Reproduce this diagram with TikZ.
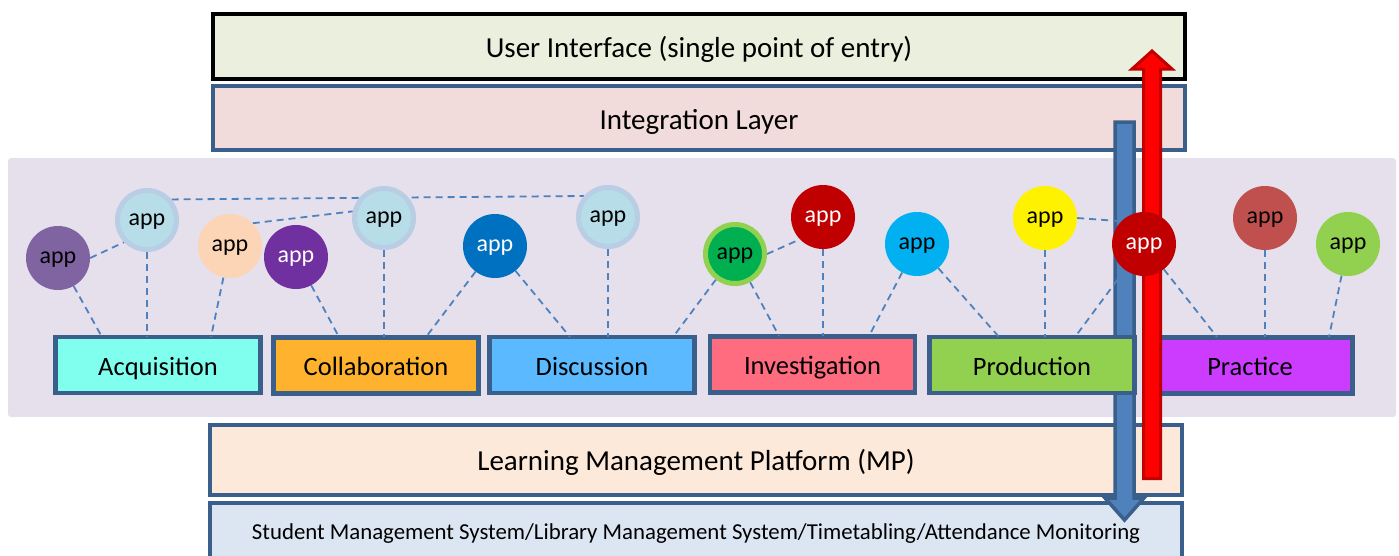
\documentclass[tikz,border=0pt]{standalone}
\usepackage{fontspec}
\setmainfont{Carlito}
\pgfdeclarelayer{bg}
\pgfdeclarelayer{mid}
\pgfsetlayers{bg,mid,main}
\begin{document}
\begin{tikzpicture}[x=1pt,y=-1pt,
  layer/.style={draw=bordblue,line width=4pt,minimum width=972pt,minimum height=64pt,inner sep=0pt,text height=29pt,text depth=7pt,font=\fontsize{29}{33}\selectfont},
  cat/.style={draw=bordblue,line width=4.5pt,minimum width=205pt,minimum height=56pt,inner sep=0pt,text height=27pt,text depth=6.5pt,font=\fontsize{26.5}{30}\selectfont},
  app/.style={circle,minimum size=64pt,inner sep=0pt,text height=15pt,text depth=3.8pt,font=\fontsize{24}{28}\selectfont},
  ringapp/.style={circle,minimum size=59pt,inner sep=0pt,line width=5pt,text height=15pt,text depth=3.8pt,font=\fontsize{24}{28}\selectfont},
  link/.style={draw=linkblue,line width=1.8pt,dash pattern=on 7pt off 5pt}
]
\definecolor{bordblue}{HTML}{3A5F8B}
\definecolor{linkblue}{HTML}{4F81BD}
\definecolor{uifill}{HTML}{EBF0DE}
\definecolor{intfill}{HTML}{F2DCDB}
\definecolor{lav}{HTML}{E5E0EC}
\definecolor{lmpfill}{HTML}{FDE9D9}
\definecolor{smsfill}{HTML}{DCE6F2}
\definecolor{acqc}{HTML}{80FFEF}
\definecolor{collc}{HTML}{FFB22E}
\definecolor{discc}{HTML}{5BB9FF}
\definecolor{invc}{HTML}{FF6B7F}
\definecolor{prodc}{HTML}{92D050}
\definecolor{pracc}{HTML}{CC3CFF}
\definecolor{ringc}{HTML}{B9CDE5}
\definecolor{lbfill}{HTML}{B7DDE8}
\definecolor{purp1}{HTML}{8064A2}
\definecolor{peach}{HTML}{FBD5B5}
\definecolor{purp2}{HTML}{7030A0}
\definecolor{dblue}{HTML}{0070C0}
\definecolor{gfill}{HTML}{00B050}
\definecolor{dred}{HTML}{C00000}
\definecolor{cyanb}{HTML}{00B0F0}
\definecolor{rosy}{HTML}{C0504D}
\useasboundingbox (0,0) rectangle (1399,555);
\begin{pgfonlayer}{bg}
% layers
\node[layer,draw=black,line width=4.5pt,fill=uifill,minimum height=65pt] (ui) at (699,46.5) {User Interface (single point of entry)};
\node[layer,fill=intfill] (int) at (699,118) {Integration Layer};
\fill[lav,rounded corners=3pt] (8,158) rectangle (1396,417);
\node[layer,fill=lmpfill,minimum height=70pt] (lmp) at (696,459.5) {Learning Management Platform (MP)};
\node[layer,fill=smsfill,minimum height=70pt] (sms) at (696,538) {};
\node[font=\fontsize{22.8}{26}\selectfont,text height=23pt,text depth=5.5pt] (smst) at (696,531) {Student Management System/Library Management System/Timetabling/Attendance Monitoring};
% blue arrow (down)
\filldraw[fill=linkblue,draw=bordblue,line width=3.5pt,line join=miter]
  (1115,122) -- (1134,122) -- (1134,498) -- (1144,498) -- (1124.5,520) -- (1105,498) -- (1115,498) -- cycle;
% category boxes
\node[cat,fill=acqc] (acq) at (158,365) {Acquisition};
\node[cat,fill=collc] (coll) at (376,365.5) {Collaboration};
\node[cat,fill=discc] (disc) at (592,365) {Discussion};
\node[cat,fill=invc] (inv) at (812.5,364.5) {Investigation};
\node[cat,fill=prodc] (prod) at (1032,365) {Production};
\node[cat,fill=pracc] (prac) at (1250,365.5) {Practice};
% red arrow (up)
\filldraw[fill=red,draw=dred,line width=3pt,line join=miter]
  (1143.5,478.5) -- (1160.5,478.5) -- (1160.5,69) -- (1172,69) -- (1152,51) -- (1132,69) -- (1143.5,69) -- cycle;
\end{pgfonlayer}
% apps
\node[app,fill=purp1] (a1) at (58,258) {app};
\node[ringapp,draw=ringc,fill=lbfill] (a2) at (147,220) {app};
\node[app,fill=peach] (a3) at (230,246) {app};
\node[app,fill=purp2,text=white] (a4) at (296,257) {app};
\node[ringapp,draw=ringc,fill=lbfill] (a5) at (384,218) {app};
\node[app,fill=dblue,text=white] (a6) at (495,246) {app};
\node[ringapp,draw=ringc,fill=lbfill] (a7) at (608,217) {app};
\node[ringapp,draw=prodc,fill=gfill] (a8) at (735,254) {app};
\node[app,fill=dred,text=white] (a9) at (823,217) {app};
\node[app,fill=cyanb] (a10) at (917,244) {app};
\node[app,fill=yellow] (a11) at (1045,218) {app};
\node[app,fill=dred,text=white] (a12) at (1144,244) {app};
\node[app,fill=rosy] (a13) at (1265,218) {app};
\node[app,fill=prodc] (a14) at (1348,244) {app};
% anchor points on category boxes
\coordinate (c1) at (102,337);
\coordinate (c2) at (147,337);
\coordinate (c3) at (211,337);
\coordinate (c4) at (339,337);
\coordinate (c5) at (384,337);
\coordinate (c6) at (426,337);
\coordinate (c7) at (570,337);
\coordinate (c8) at (608,337);
\coordinate (c9) at (673,337);
\coordinate (c10) at (779,336);
\coordinate (c11) at (823,336);
\coordinate (c12) at (869,336);
\coordinate (c13) at (999,337);
\coordinate (c14) at (1045,337);
\coordinate (c15) at (1075,337);
\coordinate (c16) at (1217,337);
\coordinate (c17) at (1265,337);
\coordinate (c18) at (1329,337);
% links
\begin{pgfonlayer}{mid}
\draw[link] (a1) -- (c1);
\draw[link] (a2) -- (c2);
\draw[link] (a3) -- (c3);
\draw[link] (a4) -- (c4);
\draw[link] (a5) -- (c5);
\draw[link] (a6) -- (c6);
\draw[link] (a6) -- (c7);
\draw[link] (a7) -- (c8);
\draw[link] (a8) -- (c9);
\draw[link] (a8) -- (c10);
\draw[link] (a9) -- (c11);
\draw[link] (a10) -- (c12);
\draw[link] (a10) -- (c13);
\draw[link] (a11) -- (c14);
\draw[link] (a12) -- (c15);
\draw[link] (a12) -- (c16);
\draw[link] (a13) -- (c17);
\draw[link] (a14) -- (c18);
\draw[link] (a1.0) -- (a2.224);
\draw[link] (a2.40) -- (a7.139);
\draw[link] (a3.45) -- (a5.168);
\draw[link] (a8.0) -- (a9.224);
\draw[link] (a11.0) -- (a12.135);
\end{pgfonlayer}
\end{tikzpicture}
\end{document}
